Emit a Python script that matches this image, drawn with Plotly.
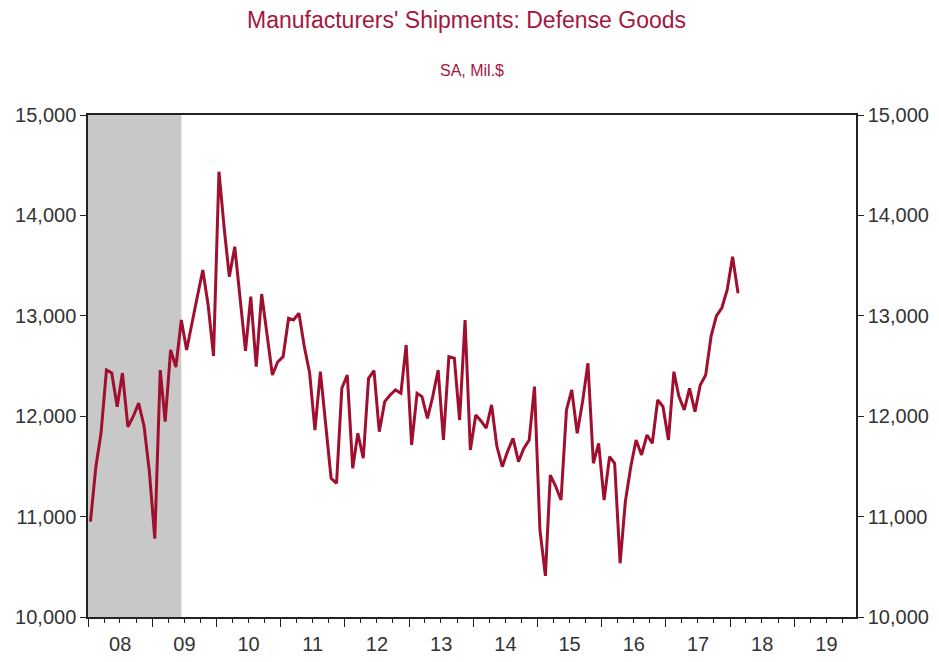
import pandas as pd
import plotly.graph_objects as go

# ---- data ----
start_month = "2008-01-01"
shipments = [
    10950, 11500, 11830, 12460, 12430, 12095, 12430, 11895, 12000, 12130, 11900, 11450,   # 2008
    10780, 12460, 11945, 12660, 12490, 12958, 12660, 12950, 13200, 13456, 13100, 12600,   # 2009
    14435, 13850, 13390, 13688, 13150, 12652, 13190, 12493, 13217, 12800, 12410, 12540,   # 2010
    12593, 12975, 12958, 13025, 12700, 12427, 11862, 12443, 11900, 11381, 11332, 12278,   # 2011
    12410, 11481, 11830, 11581, 12377, 12453, 11846, 12145, 12211, 12261, 12228, 12709,   # 2012
    11713, 12228, 12195, 11979, 12195, 12460, 11763, 12593, 12577, 11962, 12958, 11663,   # 2013
    12012, 11950, 11880, 12112, 11700, 11497, 11650, 11780, 11547, 11680, 11763, 12294,   # 2014
    10866, 10410, 11414, 11300, 11165, 12062, 12261, 11830, 12150, 12527, 11531, 11730,   # 2015
    11165, 11597, 11531, 10535, 11150, 11500, 11763, 11614, 11813, 11730, 12161, 12095,   # 2016
    11763, 12443, 12200, 12062, 12278, 12045, 12311, 12410, 12800, 13000, 13080, 13257,   # 2017
    13589, 13224,                                                                          # 2018
]
recession_start = "2008-01-01"
recession_end = "2009-06-15"
x_range = ["2008-01-01", "2019-12-18"]
y_range = [10000, 15000]
y_ticks = [10000, 11000, 12000, 13000, 14000, 15000]
title_text = "Manufacturers' Shipments: Defense Goods"
subtitle_text = "SA, Mil.$"

dates = pd.date_range(start_month, periods=len(shipments), freq="MS") + pd.Timedelta(days=14)

line_color = "#a0102e"
title_color = "#a3173f"
font_family = "Liberation Sans, Arial, sans-serif"

# page body has an 8px margin; size the figure so the page does not overflow the window
OFF = 8
W, H = 939 - 2 * OFF, 662 - 2 * OFF
L, R, T, B = 80, 75, 107, 37

fig = go.Figure()
fig.add_trace(go.Scatter(x=dates, y=shipments, mode="lines",
                         line=dict(color=line_color, width=3),
                         showlegend=False, hoverinfo="x+y"))
# same series on the mirrored right-hand axis (invisible) so its labels render
fig.add_trace(go.Scatter(x=dates, y=shipments, mode="lines", yaxis="y2",
                         line=dict(color="rgba(0,0,0,0)", width=0),
                         showlegend=False, hoverinfo="skip"))

fig.add_shape(type="rect", xref="x", yref="paper",
              x0=recession_start, x1=recession_end, y0=0, y1=1,
              fillcolor="#c8c8c8", line=dict(width=0), layer="below")

axis_common = dict(showgrid=False, zeroline=False, linecolor="#222", linewidth=1.5,
                   ticks="outside", ticklen=6, tickwidth=1.2, tickcolor="#222",
                   automargin=False,
                   tickfont=dict(family=font_family, size=20, color="#333"))

plot_h = H - T - B
plot_w = W - L - R
fig.update_layout(
    width=W, height=H,
    margin=dict(l=L, r=R, t=T, b=B),
    paper_bgcolor="white", plot_bgcolor="white",
    font=dict(family=font_family),
    xaxis=dict(range=x_range, type="date", dtick="M12", tick0="2008-01-01",
               tickformat="%y", ticklabelmode="period", mirror=True,
               minor=dict(dtick="M3", ticklen=4, ticks="outside", tickcolor="#222"),
               **{**axis_common, "ticklen": 8}),
    yaxis=dict(range=y_range, tickvals=y_ticks, tickformat=",d", mirror=True,
               **axis_common),
    yaxis2=dict(range=y_range, tickvals=y_ticks, tickformat=",d", overlaying="y",
                side="right", **axis_common),
    annotations=[
        dict(text=title_text, x=(466 - OFF - L) / plot_w, y=1.1,
             xref="paper", yref="paper", xanchor="center", yanchor="middle",
             showarrow=False, font=dict(size=23, color=title_color, family=font_family)),
        dict(text=subtitle_text, x=(472 - OFF - L) / plot_w, y=1.05,
             xref="paper", yref="paper", xanchor="center", yanchor="middle",
             showarrow=False, font=dict(size=16, color=title_color, family=font_family)),
    ],
)
# convert title y from pixel rows (page coords) to paper coords
for a, ypx in zip(fig.layout.annotations, [20, 70]):
    a.y = (H - B - (ypx - OFF)) / plot_h

fig.write_html("out.html")
